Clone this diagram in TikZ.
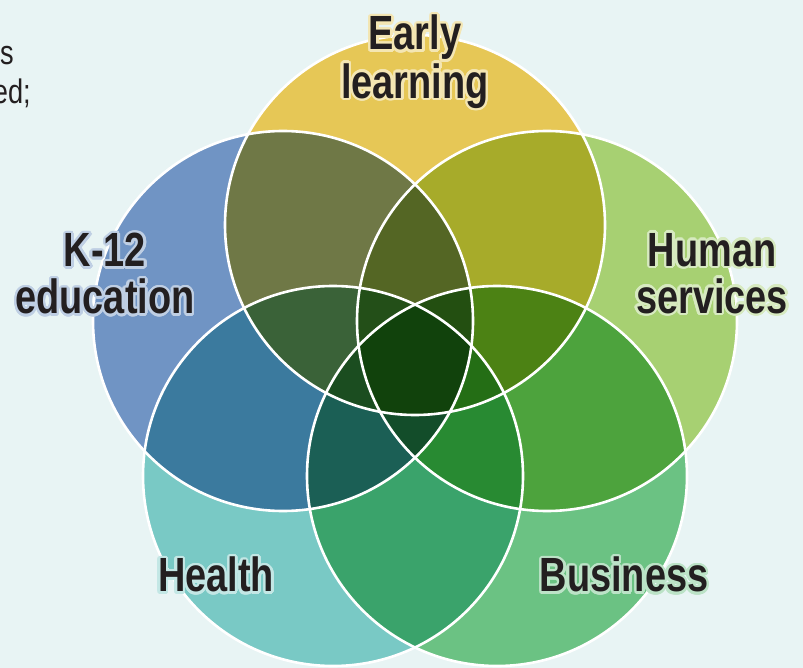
\documentclass[tikz,border=0pt]{standalone}
\usepackage{fontspec}
\usepackage{contour}
\newfontfamily\lblfont[FakeStretch=0.79]{Liberation Sans}
\newfontfamily\bodyfont[FakeStretch=0.8]{Liberation Sans}
\contourlength{2.4pt}
\contournumber{24}
\definecolor{bgcol}{HTML}{E8F4F4}
\definecolor{txtcol}{HTML}{231F20}
% one area
\definecolor{cE}{HTML}{E6C756}
\definecolor{cK}{HTML}{7094C4}
\definecolor{cHs}{HTML}{A7D072}
\definecolor{cHe}{HTML}{79C9C5}
\definecolor{cB}{HTML}{6BC283}
% two areas
\definecolor{cEK}{HTML}{6F7846}
\definecolor{cEHs}{HTML}{A7AB2A}
\definecolor{cKHe}{HTML}{3B7A9E}
\definecolor{cHsB}{HTML}{4DA33D}
\definecolor{cHeB}{HTML}{3AA36B}
% three areas
\definecolor{cKEHs}{HTML}{546624}
\definecolor{cEHsB}{HTML}{4C8214}
\definecolor{cHsBHe}{HTML}{288A32}
\definecolor{cBHeK}{HTML}{1B5F55}
\definecolor{cHeKE}{HTML}{3A6238}
% four and five areas
\definecolor{cnoB}{HTML}{234F18}
\definecolor{cnoHe}{HTML}{234F11}
\definecolor{cnoHs}{HTML}{1B4D20}
\definecolor{cnoK}{HTML}{246E15}
\definecolor{cnoE}{HTML}{134D2A}
\definecolor{call}{HTML}{11420C}
\newcommand{\halo}[2]{\contour{#1!45!white}{#2}}
\begin{document}
\begin{tikzpicture}[x=1pt,y=-1pt,
	rim/.style={white,line width=2.6pt},
	lbl/.style={font=\lblfont\bfseries\fontsize{48}{47}\selectfont,text=txtcol,align=center,inner sep=0pt,anchor=north},
	body/.style={font=\bodyfont\fontsize{34}{40}\selectfont,text=txtcol,inner sep=0pt,anchor=base east}]
		\def\rad{190}
		\useasboundingbox (0,0) rectangle (803,668);
		\fill[bgcol] (0,0) rectangle (803,668);
		\coordinate (E) at (415,225);
		\coordinate (Hs) at (547,321);
		\coordinate (B) at (497,476);
		\coordinate (He) at (333,476);
		\coordinate (K) at (283,321);
		% single circles
		\foreach \a/\col in {E/cE,Hs/cHs,B/cB,He/cHe,K/cK}
			\fill[fill=\col] (\a) circle (\rad);
		% pairs
		\foreach \a/\b/\col in {E/K/cEK,E/Hs/cEHs,K/He/cKHe,Hs/B/cHsB,He/B/cHeB}{
			\begin{scope}
				\clip (\a) circle (\rad);
				\fill[fill=\col] (\b) circle (\rad);
			\end{scope}}
		% triples
		\foreach \a/\b/\c/\col in {K/E/Hs/cKEHs,E/Hs/B/cEHsB,Hs/B/He/cHsBHe,B/He/K/cBHeK,He/K/E/cHeKE}{
			\begin{scope}
				\clip (\a) circle (\rad);
				\clip (\b) circle (\rad);
				\fill[fill=\col] (\c) circle (\rad);
			\end{scope}}
		% four and all five
		\foreach \a/\b/\c/\d/\col in {E/K/Hs/He/cnoB,E/K/Hs/B/cnoHe,E/K/He/B/cnoHs,E/Hs/He/B/cnoK,K/Hs/He/B/cnoE}{
			\begin{scope}
				\clip (\a) circle (\rad);
				\clip (\b) circle (\rad);
				\clip (\c) circle (\rad);
				\fill[fill=\col] (\d) circle (\rad);
			\end{scope}}
		\begin{scope}
			\clip (E) circle (\rad);
			\clip (K) circle (\rad);
			\clip (Hs) circle (\rad);
			\clip (He) circle (\rad);
			\fill[call] (B) circle (\rad);
		\end{scope}
		\foreach \a in {E,Hs,B,He,K}
			\draw[rim] (\a) circle (\rad);
		% labels
		\node[lbl] (early) at (415,15) {\halo{cE}{Early}\\\halo{cE}{learning}};
		\node[lbl] (kTwelve) at (105,233) {\halo{cK}{K-12}\\\halo{cK}{education}};
		\node[lbl] (human) at (712,233) {\halo{cHs}{Human}\\\halo{cHs}{services}};
		\node[lbl] (health) at (216,557) {\halo{cHe}{Health}};
		\node[lbl] (business) at (624,557) {\halo{cB}{Business}};
		% cut text at the left edge
		\node[body] (textA) at (14,65) {s};
		\node[body] (textB) at (31,104) {ed;};
		\end{tikzpicture}
\end{document}
